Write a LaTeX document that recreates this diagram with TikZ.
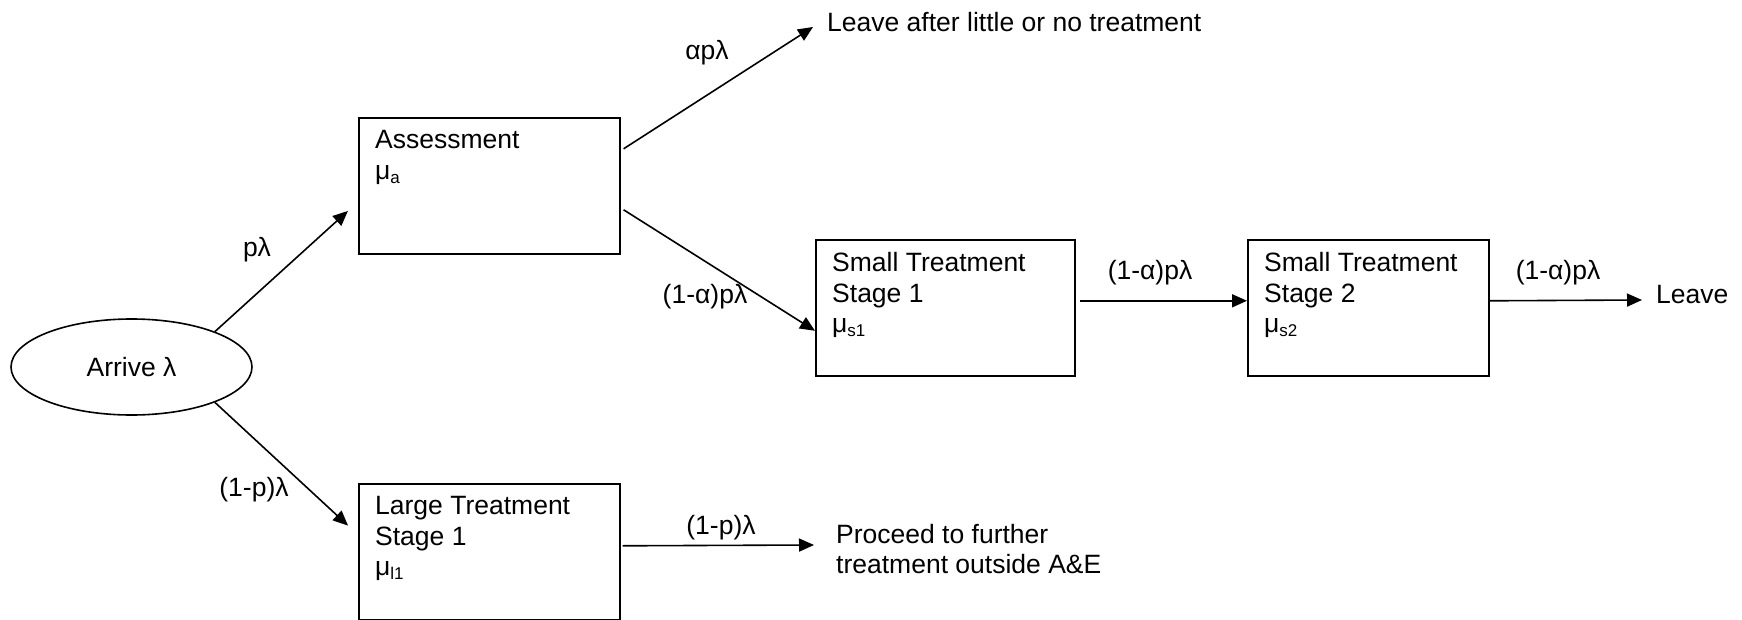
\documentclass[tikz,border=0pt]{standalone}
\usepackage{fontspec}
\setmainfont{Liberation Sans}
\usetikzlibrary{arrows.meta,shapes.geometric}
\newcommand{\mysub}[1]{\raisebox{-4pt}{\fontsize{17}{17}\selectfont #1}}
\begin{document}
\begin{tikzpicture}[x=1pt,y=-1pt,
  font=\fontsize{26.5}{30.5}\selectfont,
  box/.style={draw, line width=1.6pt, anchor=north west, inner sep=0pt},
  boxtxt/.style={anchor=north west, inner sep=0pt, align=left},
  lbl/.style={inner sep=0pt},
  conn/.style={line width=1.6pt, -{Triangle[length=15pt,width=13pt]}}]
\useasboundingbox (0,0) rectangle (1742,620);

% boxes
\node[box, minimum width=261pt, minimum height=136pt] (assess) at (358,117) {};
\node[box, minimum width=261pt, minimum height=136pt] (large) at (358,483) {};
\node[box, minimum width=259pt, minimum height=136pt] (small1) at (815,239) {};
\node[box, minimum width=241pt, minimum height=136pt] (small2) at (1247,239) {};

\node[boxtxt] (assesst) at ([shift={(17,13.5)}]assess.north west) {Assessment\\μ\mysub{a}};
\node[boxtxt] (larget) at ([shift={(17,13.5)}]large.north west) {Large Treatment\\Stage 1\\μ\mysub{l1}};
\node[boxtxt] (small1t) at ([shift={(17,13.5)}]small1.north west) {Small Treatment\\Stage 1\\μ\mysub{s1}};
\node[boxtxt] (small2t) at ([shift={(17,13.5)}]small2.north west) {Small Treatment\\Stage 2\\μ\mysub{s2}};

% ellipse
\node[ellipse, draw, line width=1.6pt, minimum width=241pt, minimum height=96pt, inner sep=0pt] (arrive) at (131.5,367) {Arrive λ};

% end texts
\node[lbl, anchor=west] (lt) at (827,22) {Leave after little or no treatment};
\node[lbl, anchor=west] (leave) at (1656,295) {Leave};
\node[lbl, anchor=west, align=left] (proceed) at (836,549) {Proceed to further\\treatment outside A\&E};

% connectors
\draw[conn, shorten >=13.6pt] (arrive.23) -- ([shift={(0,16)}]assess.west);
\draw[conn, shorten >=13.6pt] (arrive.-23) -- ([shift={(0,-17)}]large.west);
\draw[conn] ([shift={(3,-37)}]assess.east) -- ([shift={(-14,5)}]lt.west);
\draw[conn] ([shift={(3,24)}]assess.east) -- ([shift={(0,23)}]small1.west);
\draw[conn] ([shift={(4,-7)}]small1.east) -- ([shift={(0,-7)}]small2.west);
\draw[conn] ([shift={(0,-7)}]small2.east) -- ([shift={(-14,5)}]leave.west);
\draw[conn] ([shift={(2,-6)}]large.east) -- ([shift={(-22,-4)}]proceed.west);

% labels
\node[lbl] (l1) at (257,250) {pλ};
\node[lbl] (l2) at (254,490) {(1-p)λ};
\node[lbl] (l3) at (707,53) {αpλ};
\node[lbl] (l4) at (705,297) {(1-α)pλ};
\node[lbl] (l5) at (1150,273) {(1-α)pλ};
\node[lbl] (l6) at (1558,273) {(1-α)pλ};
\node[lbl] (l7) at (721,528) {(1-p)λ};
\end{tikzpicture}
\end{document}
